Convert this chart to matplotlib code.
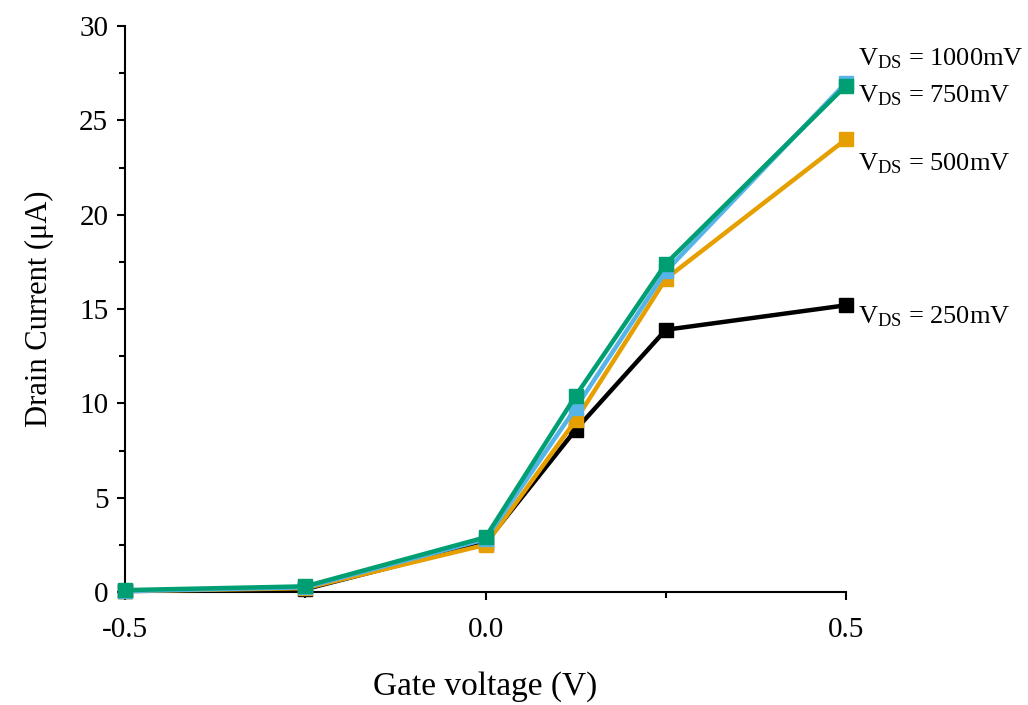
import matplotlib
matplotlib.use("Agg")
import matplotlib.pyplot as plt
from matplotlib.ticker import MultipleLocator, FuncFormatter

plt.rcParams['font.family'] = ['Liberation Serif', 'DejaVu Serif']
plt.rcParams['mathtext.fontset'] = 'custom'
plt.rcParams['mathtext.rm'] = 'Liberation Serif'
plt.rcParams['mathtext.it'] = 'Liberation Serif:italic'

gate_v = [-0.5, -0.25, 0.0, 0.125, 0.25, 0.5]
i_250 = [0.05, 0.15, 2.6, 8.6, 13.9, 15.2]
i_500 = [0.05, 0.2, 2.5, 9.1, 16.6, 24.0]
i_1000 = [0.05, 0.25, 2.8, 9.75, 17.0, 27.0]
i_750 = [0.1, 0.3, 2.9, 10.4, 17.4, 26.85]

series = [
    ("250mV", i_250, "#000000", 14.26),
    ("500mV", i_500, "#E69F00", 22.36),
    ("1000mV", i_1000, "#56B4E9", 27.93),
    ("750mV", i_750, "#009E73", 25.97),
]

fig = plt.figure(figsize=(10.28, 7.05), dpi=100)
ax = fig.add_axes([0.1216, 0.1603, 0.7014, 0.8027])

for name, vals, color, ly in series:
    ax.plot(gate_v, vals, color=color, lw=3.2, marker='s', ms=10, clip_on=False, zorder=3)
    ax.text(0.5166, ly, r'V$_{\mathrm{DS}}$ = ' + name, fontsize=19, va='baseline',
            ha='left', transform=ax.transData, clip_on=False)

ax.set_xlim(-0.5, 0.5)
ax.set_ylim(0, 30)
ax.spines['top'].set_visible(False)
ax.spines['right'].set_visible(False)
for s in ['left', 'bottom']:
    ax.spines[s].set_linewidth(1.5)
ax.xaxis.set_major_locator(MultipleLocator(0.5))
ax.xaxis.set_minor_locator(MultipleLocator(0.25))
ax.yaxis.set_major_locator(MultipleLocator(5))
ax.yaxis.set_minor_locator(MultipleLocator(2.5))
ax.xaxis.set_major_formatter(FuncFormatter(lambda v, p: f"{v:.1f}"))
ax.tick_params(which='major', direction='out', length=6, width=1.5, labelsize=21)
ax.tick_params(which='minor', direction='out', length=4, width=1.5)
ax.tick_params(axis='x', which='major', pad=12)
ax.tick_params(axis='y', which='major', pad=6)
ax.set_xlabel("Gate voltage (V)", fontsize=24, labelpad=20)
ax.set_ylabel("Drain Current (μA)", fontsize=22, labelpad=18)

fig.savefig("out.png", dpi=100)
